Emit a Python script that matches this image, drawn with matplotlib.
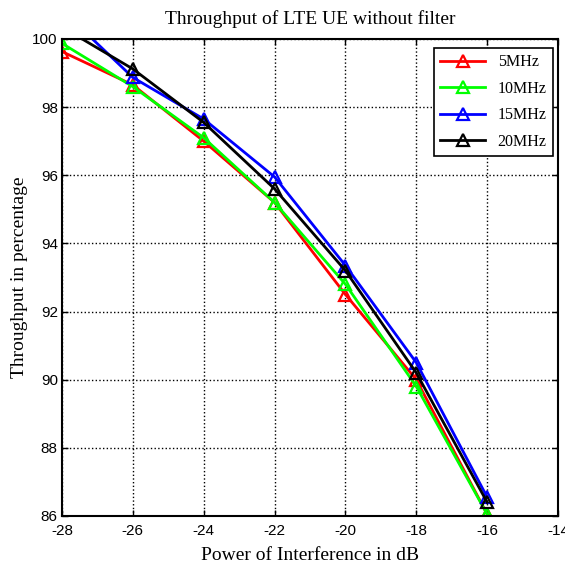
import matplotlib
matplotlib.use("Agg")
from matplotlib import pyplot as plt

plt.rcParams["axes.unicode_minus"] = False

# interference power (dB)
power = [-28, -26, -24, -22, -20, -18, -16]

# throughput (%) per bandwidth
tp_5mhz = [99.63, 98.65, 97.0, 95.2, 92.5, 90.0, 86.05]
tp_10mhz = [99.87, 98.6, 97.1, 95.2, 92.8, 89.8, 86.05]
tp_15mhz = [100.85, 98.87, 97.65, 95.95, 93.35, 90.5, 86.55]
tp_20mhz = [100.35, 99.12, 97.55, 95.6, 93.2, 90.2, 86.4]

labels = ["5MHz", "10MHz", "15MHz", "20MHz"]
colors = ["#ff0000", "#00ff00", "#0000ff", "#000000"]

serif = "Liberation Serif"
sans = "Liberation Sans"

fig = plt.figure(figsize=(5.65, 5.73), dpi=100)
ax = fig.add_axes([0.1097, 0.0995, 0.878, 0.8325])

for y, lab, c in zip([tp_5mhz, tp_10mhz, tp_15mhz, tp_20mhz], labels, colors):
    ax.plot(power, y, color=c, linewidth=2, marker="^", markersize=9,
            markerfacecolor="none", markeredgecolor=c, markeredgewidth=1.6,
            label=lab)

ax.set_xlim(-28, -14)
ax.set_ylim(86, 100)
ax.set_xticks(range(-28, -13, 2))
ax.set_yticks(range(86, 101, 2))
ax.grid(True, color="black", linestyle=":", linewidth=1)
for s in ax.spines.values():
    s.set_linewidth(1.5)
ax.tick_params(direction="in", length=4, width=1, top=True, right=True)
ax.tick_params(axis="x", pad=6)
ax.tick_params(axis="y", pad=3)
for t in ax.get_xticklabels() + ax.get_yticklabels():
    t.set_fontfamily(sans)
    t.set_fontsize(11)

ax.set_title("Throughput of LTE UE without filter", fontfamily=serif,
             fontsize=14, pad=11)
ax.set_xlabel("Power of Interference in dB", fontfamily=serif, fontsize=14,
              labelpad=6)
ax.set_ylabel("Throughput in percentage", fontfamily=serif, fontsize=14,
              labelpad=3)

leg = ax.legend(loc="upper right", bbox_to_anchor=(0.99, 0.981),
                prop={"family": serif, "size": 11.5},
                fancybox=False, edgecolor="black", framealpha=1,
                handlelength=2.8, labelspacing=0.65, borderaxespad=0)
leg.get_frame().set_linewidth(1.2)

plt.savefig("out.png", dpi=100)
